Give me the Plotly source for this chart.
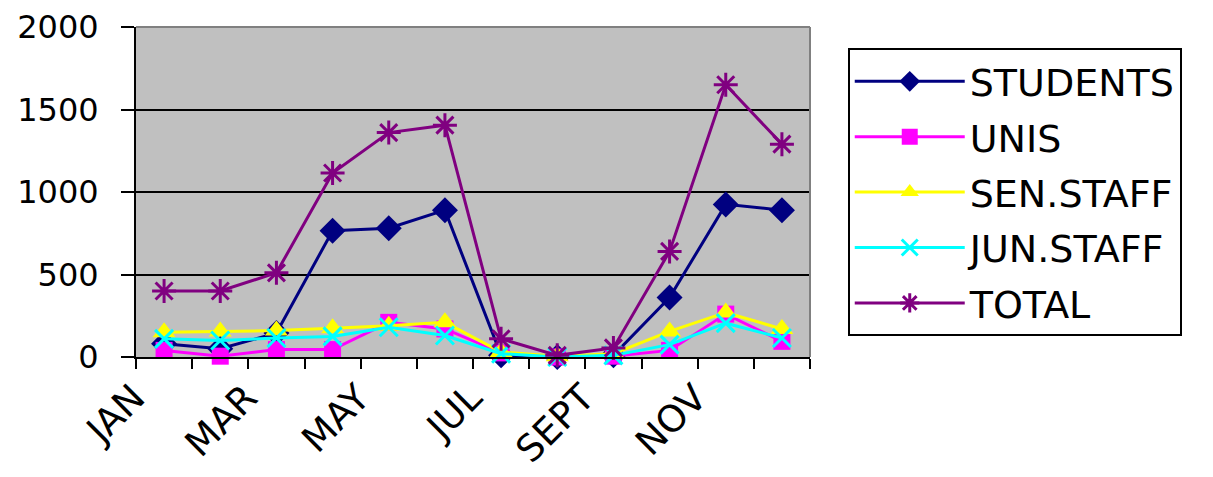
import plotly.graph_objects as go

months = ["JAN", "FEB", "MAR", "APR", "MAY", "JUN", "JUL", "AUG", "SEPT", "OCT", "NOV", "DEC"]
month_labels = ["JAN", "", "MAR", "", "MAY", "", "JUL", "", "SEPT", "", "NOV", ""]
students = [80, 50, 145, 765, 780, 890, 10, 0, 10, 360, 925, 890]
unis = [40, 5, 45, 45, 210, 170, 25, 0, 5, 40, 260, 95]
sen_staff = [150, 155, 160, 175, 190, 210, 30, 5, 20, 155, 270, 170]
jun_staff = [110, 100, 115, 125, 180, 130, 20, 0, 10, 75, 205, 115]
total = [400, 400, 510, 1115, 1360, 1405, 110, 10, 55, 640, 1650, 1290]

series = [
    ("STUDENTS", students, "#000080", dict(symbol="diamond", size=20)),
    ("UNIS", unis, "#FF00FF", dict(symbol="square", size=17)),
    ("SEN.STAFF", sen_staff, "#FFFF00", dict(symbol="triangle-up", size=20)),
    ("JUN.STAFF", jun_staff, "#00FFFF", dict(symbol="x-thin-open", size=18, line=dict(width=3, color="#00FFFF"))),
    ("TOTAL", total, "#800080", dict(symbol="asterisk-open", size=20, line=dict(width=3, color="#800080"))),
]

fig = go.Figure()
for i, (name, vals, color, mk) in enumerate(series):
    m = dict(color=color)
    m.update(mk)
    fig.add_trace(go.Scatter(
        x=months, y=vals, name=name, mode="lines+markers",
        line=dict(color=color, width=3), marker=m,
        cliponaxis=False, legendgroup=str(i),
    ))

yfont = dict(family="DejaVu Sans", size=32, color="black")
xfont = dict(family="DejaVu Sans", size=37, color="black")

fig.update_layout(
    width=1213, height=477,
    margin=dict(l=128, r=411, t=19, b=128),
    paper_bgcolor="white", plot_bgcolor="#C0C0C0",
    font=yfont,
    showlegend=True,
    legend=dict(
        x=1.056, y=0.936, xanchor="left", yanchor="top",
        bgcolor="white", bordercolor="black", borderwidth=2,
        font=dict(family="DejaVu Sans", size=38, color="black"),
        tracegroupgap=3, itemwidth=110,
    ),
    xaxis=dict(
        type="category", tickvals=months, ticktext=month_labels,
        tickson="boundaries", ticks="outside", ticklen=10, tickwidth=2,
        tickcolor="black", tickangle=-45, showline=True, linecolor="black",
        linewidth=2, showgrid=False, range=[-0.5, 11.5], tickfont=xfont,
        automargin=False, ticklabelshift=-30, ticklabelstandoff=2,
        ticklabeloverflow="allow",
    ),
    yaxis=dict(
        range=[0, 2000], dtick=500, ticks="outside", ticklen=13, tickwidth=2,
        tickcolor="black", showline=True, linecolor="black", linewidth=2,
        showgrid=True, gridcolor="black", gridwidth=1.5, zeroline=False,
        tickfont=yfont, automargin=False, ticklabelstandoff=16,
        ticklabeloverflow="allow",
    ),
)

fig.add_shape(type="line", xref="x domain", yref="y domain", x0=0, x1=1, y0=1, y1=1,
              line=dict(color="#808080", width=2), layer="above")
fig.add_shape(type="line", xref="x domain", yref="y domain", x0=1, x1=1, y0=0, y1=1,
              line=dict(color="#808080", width=2), layer="above")

fig.write_html("out.html")
